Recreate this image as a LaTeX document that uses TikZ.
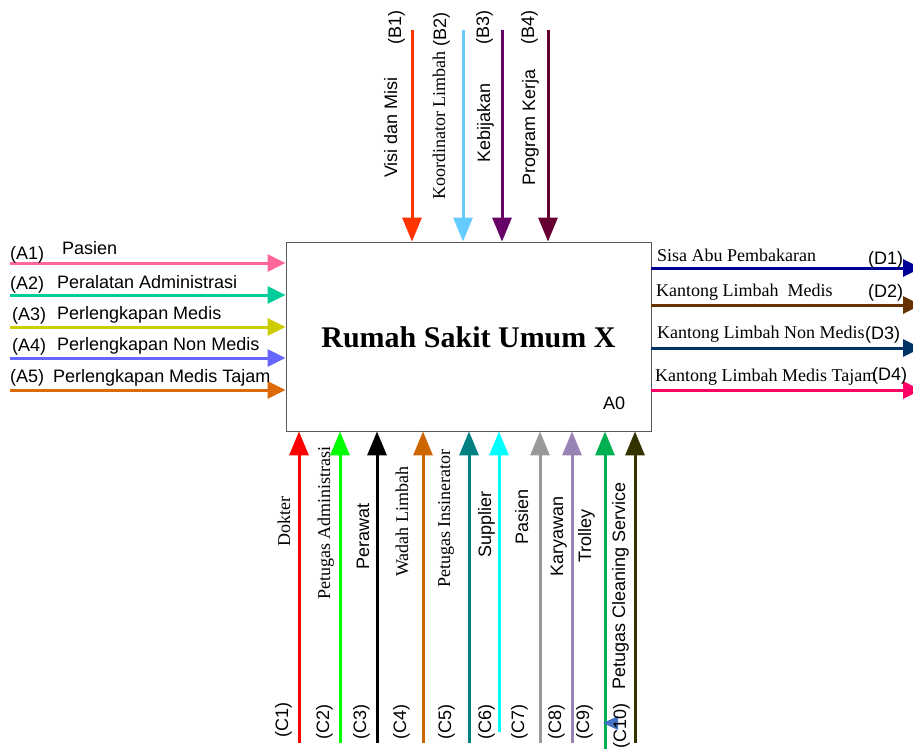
\documentclass[tikz,border=0pt]{standalone}
\usepackage{fontspec}
\setmainfont{Liberation Serif}
\setsansfont{Liberation Sans}
\usetikzlibrary{arrows.meta}

\definecolor{cA1}{HTML}{FF6699}
\definecolor{cA2}{HTML}{00CC99}
\definecolor{cA3}{HTML}{CCCC00}
\definecolor{cA4}{HTML}{6666FF}
\definecolor{cA5}{HTML}{DD6A08}
\definecolor{cB1}{HTML}{FF3300}
\definecolor{cB2}{HTML}{66CCFF}
\definecolor{cB3}{HTML}{660066}
\definecolor{cB4}{HTML}{660033}
\definecolor{cC1}{HTML}{FF0000}
\definecolor{cC2}{HTML}{00FF00}
\definecolor{cC3}{HTML}{000000}
\definecolor{cC4}{HTML}{CC6600}
\definecolor{cC5}{HTML}{008080}
\definecolor{cC6}{HTML}{00FFFF}
\definecolor{cC7}{HTML}{999999}
\definecolor{cC8}{HTML}{9982B4}
\definecolor{cC9}{HTML}{00B050}
\definecolor{cC10}{HTML}{333300}
\definecolor{cD1}{HTML}{000099}
\definecolor{cD2}{HTML}{663300}
\definecolor{cD3}{HTML}{003366}
\definecolor{cD4}{HTML}{FF0066}
\definecolor{ujungbiru}{HTML}{4472C4}

\begin{document}
\begin{tikzpicture}[
  x=1pt, y=-1pt,
  every node/.style={inner sep=0pt},
  box/.style={
    draw=black!65,
    line width=0.8pt,
    minimum width=365pt,
    minimum height=189pt
  },
  sans/.style={font=\fontsize{18}{20}\selectfont\sffamily, anchor=base west},
  serif/.style={font=\fontsize{18}{20}\selectfont\rmfamily, anchor=base west},
  up/.style={rotate=90},
  inarrow/.style={-{Triangle[length=18pt,width=17pt]}, line width=3pt},
  arrow/.style={-{Triangle[length=24pt,width=19pt]}, line width=3pt}
]
\useasboundingbox (0,0) rectangle (913,749);

\node[box] (A0) at (468.5,336.5) {};
\node[font=\fontsize{30}{32}\selectfont\rmfamily\bfseries, anchor=base] (judul) at (468.5,347) {Rumah Sakit Umum X};
\node[sans] (kode) at (603,409) {A0};

\coordinate (a1) at (10,263);
\coordinate (a2) at (10,295);
\coordinate (a3) at (10,327);
\coordinate (a4) at (10,358);
\coordinate (a5) at (10,390);
\draw[inarrow, cA1] (a1) -- (a1 -| A0.west);
\draw[inarrow, cA2] (a2) -- (a2 -| A0.west);
\draw[inarrow, cA3] (a3) -- (a3 -| A0.west);
\draw[inarrow, cA4] (a4) -- (a4 -| A0.west);
\draw[inarrow, cA5] (a5) -- (a5 -| A0.west);
\node[sans] (a1k) at (10,259) {(A1)};
\node[sans] (a1t) at (62,254) {Pasien};
\node[sans] (a2k) at (10,289) {(A2)};
\node[sans] (a2t) at (57,288) {Peralatan Administrasi};
\node[sans] (a3k) at (12,320) {(A3)};
\node[sans] (a3t) at (57,319) {Perlengkapan Medis};
\node[sans] (a4k) at (12,351) {(A4)};
\node[sans] (a4t) at (57,350) {Perlengkapan Non Medis};
\node[sans] (a5k) at (10,382) {(A5)};
\node[sans] (a5t) at (53,382) {Perlengkapan Medis Tajam};

\coordinate (b1) at (412,30);
\coordinate (b2) at (463,30);
\coordinate (b3) at (502,30);
\coordinate (b4) at (548,30);
\draw[arrow, cB1] (b1) -- (b1 |- A0.north);
\draw[arrow, cB2] (b2) -- (b2 |- A0.north);
\draw[arrow, cB3] (b3) -- (b3 |- A0.north);
\draw[arrow, cB4] (b4) -- (b4 |- A0.north);
\node[sans, up] (b1t) at (397,178) {Visi dan Misi};
\node[sans, up] (b1k) at (401,45) {(B1)};
\node[serif, up] (b2t) at (445,200) {Koordinator Limbah};
\node[sans, up] (b2k) at (446,47) {(B2)};
\node[sans, up] (b3t) at (490,163) {Kebijakan};
\node[sans, up] (b3k) at (489,45) {(B3)};
\node[sans, up] (b4t) at (535,186) {Program Kerja};
\node[sans, up] (b4k) at (534,45) {(B4)};

\coordinate (c1) at (299,743);
\coordinate (c2) at (340,743);
\coordinate (c3) at (377,743);
\coordinate (c4) at (423,743);
\coordinate (c5) at (469,743);
\coordinate (c6) at (499,732);
\coordinate (c7) at (540,743);
\coordinate (c8) at (572,743);
\coordinate (c9) at (605,752);
\coordinate (c10) at (635,743);
\draw[arrow, cC1] (c1) -- (c1 |- A0.south);
\draw[arrow, cC2] (c2) -- (c2 |- A0.south);
\draw[arrow, cC3] (c3) -- (c3 |- A0.south);
\draw[arrow, cC4] (c4) -- (c4 |- A0.south);
\draw[arrow, cC5] (c5) -- (c5 |- A0.south);
\draw[arrow, cC6] (c6) -- (c6 |- A0.south);
\draw[arrow, cC7] (c7) -- (c7 |- A0.south);
\draw[arrow, cC8] (c8) -- (c8 |- A0.south);
\draw[arrow, cC9] (c9) -- (c9 |- A0.south);
\draw[arrow, cC10] (c10) -- (c10 |- A0.south);
\fill[ujungbiru] (603,723) -- (618,716) -- (618,730) -- cycle;
\node[serif, up] (c1t) at (290,547) {Dokter};
\node[sans, up] (c1k) at (288,738) {(C1)};
\node[serif, up] (c2t) at (330,600) {Petugas Administrasi};
\node[sans, up] (c2k) at (329,740) {(C2)};
\node[sans, up] (c3t) at (369,570) {Perawat};
\node[sans, up] (c3k) at (366,740) {(C3)};
\node[serif, up] (c4t) at (408,577) {Wadah Limbah};
\node[sans, up] (c4k) at (406,740) {(C4)};
\node[serif, up] (c5t) at (450,588) {Petugas Insinerator};
\node[sans, up] (c5k) at (451,740) {(C5)};
\node[sans, up] (c6t) at (491,558) {Supplier};
\node[sans, up] (c6k) at (491,740) {(C6)};
\node[sans, up] (c7t) at (528,545) {Pasien};
\node[sans, up] (c7k) at (524,740) {(C7)};
\node[sans, up] (c8t) at (563,577) {Karyawan};
\node[sans, up] (c8k) at (561,740) {(C8)};
\node[sans, up] (c9t) at (591,563) {Trolley};
\node[sans, up] (c9k) at (589,740) {(C9)};
\node[sans, up] (c10t) at (625,690) {Petugas Cleaning Service};
\node[sans, up] (c10k) at (626,749) {(C10)};

\coordinate (d1) at (921,268);
\coordinate (d2) at (921,305);
\coordinate (d3) at (921,348);
\coordinate (d4) at (921,390);
\draw[inarrow, cD1] (A0.east |- d1) -- (d1);
\draw[inarrow, cD2] (A0.east |- d2) -- (d2);
\draw[inarrow, cD3] (A0.east |- d3) -- (d3);
\draw[inarrow, cD4] (A0.east |- d4) -- (d4);
\node[serif] (d1t) at (657,261) {Sisa Abu Pembakaran};
\node[sans] (d1k) at (868,264) {(D1)};
\node[serif] (d2t) at (656,296) {Kantong Limbah~ Medis};
\node[sans] (d2k) at (868,297) {(D2)};
\node[serif] (d3t) at (657,338) {Kantong Limbah Non Medis};
\node[sans] (d3k) at (865,339) {(D3)};
\node[serif] (d4t) at (655,381) {Kantong Limbah Medis Tajam};
\node[sans] (d4k) at (872,380) {(D4)};
\end{tikzpicture}
\end{document}
